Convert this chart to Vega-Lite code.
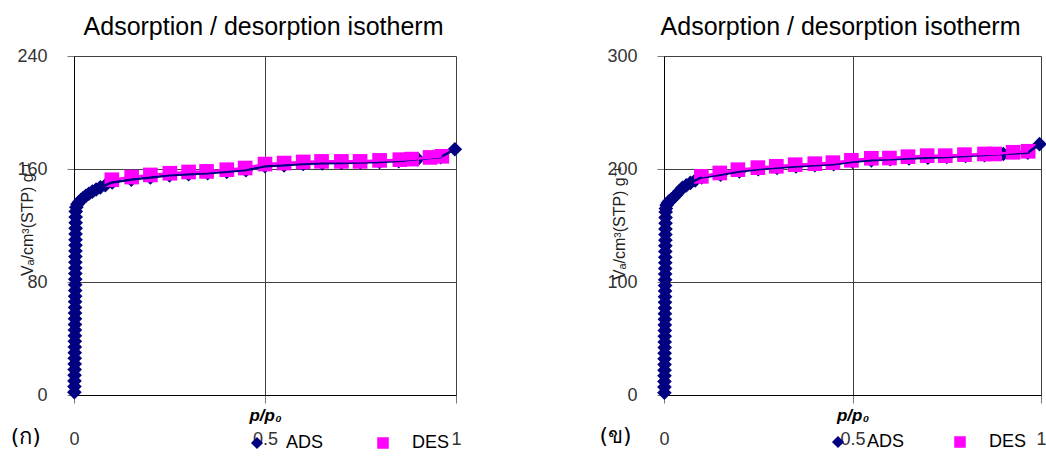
{
  "$schema": "https://vega.github.io/schema/vega-lite/v6.json",
  "padding": {"left": 10, "top": 15, "right": 0, "bottom": 0},
  "background": "white",
  "config": {
    "font": "Liberation Sans",
    "view": {"stroke": null},
    "axis": {"domainColor": "#000000", "domainWidth": 1, "gridColor": "#404040", "gridWidth": 1, "gridOpacity": 1, "tickColor": "#777777", "labelColor": "#333333", "labelFontSize": 18, "labelFont": "Liberation Sans", "titleFont": "Liberation Sans", "titleColor": "#222222"},
    "title": {"font": "Liberation Sans", "fontSize": 25, "fontWeight": "normal", "color": "#000000"}
  },
  "datasets": {
    "left": [
      {"p": 0.0010, "v": 2, "s": "ADS"}, {"p": 0.0012, "v": 6, "s": "ADS"}, {"p": 0.0013, "v": 10, "s": "ADS"}, {"p": 0.0015, "v": 14, "s": "ADS"},
      {"p": 0.0016, "v": 18, "s": "ADS"}, {"p": 0.0018, "v": 22, "s": "ADS"}, {"p": 0.0019, "v": 26, "s": "ADS"}, {"p": 0.0020, "v": 30, "s": "ADS"},
      {"p": 0.0021, "v": 34, "s": "ADS"}, {"p": 0.0022, "v": 38, "s": "ADS"}, {"p": 0.0023, "v": 42, "s": "ADS"}, {"p": 0.0024, "v": 46, "s": "ADS"},
      {"p": 0.0025, "v": 50, "s": "ADS"}, {"p": 0.0026, "v": 54, "s": "ADS"}, {"p": 0.0027, "v": 58, "s": "ADS"}, {"p": 0.0028, "v": 62, "s": "ADS"},
      {"p": 0.0029, "v": 66, "s": "ADS"}, {"p": 0.0030, "v": 70, "s": "ADS"}, {"p": 0.0031, "v": 74, "s": "ADS"}, {"p": 0.0032, "v": 78, "s": "ADS"},
      {"p": 0.0033, "v": 82, "s": "ADS"}, {"p": 0.0034, "v": 86, "s": "ADS"}, {"p": 0.0035, "v": 90, "s": "ADS"}, {"p": 0.0036, "v": 94, "s": "ADS"},
      {"p": 0.0037, "v": 98, "s": "ADS"}, {"p": 0.0038, "v": 102, "s": "ADS"}, {"p": 0.0039, "v": 106, "s": "ADS"}, {"p": 0.0040, "v": 110, "s": "ADS"},
      {"p": 0.0041, "v": 114, "s": "ADS"}, {"p": 0.0042, "v": 118, "s": "ADS"}, {"p": 0.0043, "v": 122, "s": "ADS"}, {"p": 0.0044, "v": 126, "s": "ADS"},
      {"p": 0.0046, "v": 130, "s": "ADS"}, {"p": 0.006, "v": 133, "s": "ADS"}, {"p": 0.009, "v": 135, "s": "ADS"}, {"p": 0.013, "v": 136.5, "s": "ADS"},
      {"p": 0.018, "v": 138, "s": "ADS"}, {"p": 0.024, "v": 139.5, "s": "ADS"}, {"p": 0.031, "v": 141, "s": "ADS"}, {"p": 0.039, "v": 142.5, "s": "ADS"},
      {"p": 0.048, "v": 144, "s": "ADS"}, {"p": 0.058, "v": 145.5, "s": "ADS"}, {"p": 0.069, "v": 147, "s": "ADS"}, {"p": 0.082, "v": 148.5, "s": "ADS"},
      {"p": 0.1, "v": 150.5, "s": "ADS"}, {"p": 0.15, "v": 152.5, "s": "ADS"}, {"p": 0.2, "v": 154, "s": "ADS"}, {"p": 0.25, "v": 155.5, "s": "ADS"},
      {"p": 0.3, "v": 156.3, "s": "ADS"}, {"p": 0.35, "v": 157, "s": "ADS"}, {"p": 0.4, "v": 158, "s": "ADS"}, {"p": 0.45, "v": 159.2, "s": "ADS"},
      {"p": 0.5, "v": 162, "s": "ADS"}, {"p": 0.55, "v": 162.6, "s": "ADS"}, {"p": 0.6, "v": 163.6, "s": "ADS"}, {"p": 0.65, "v": 164, "s": "ADS"},
      {"p": 0.7, "v": 164.3, "s": "ADS"}, {"p": 0.75, "v": 164.6, "s": "ADS"}, {"p": 0.8, "v": 165, "s": "ADS"}, {"p": 0.85, "v": 165.6, "s": "ADS"},
      {"p": 0.9, "v": 167, "s": "ADS"}, {"p": 0.96, "v": 168.4, "s": "ADS"}, {"p": 0.997, "v": 174, "s": "ADS"},
      {"p": 0.099, "v": 152.4, "s": "DES"}, {"p": 0.151, "v": 154.3, "s": "DES"}, {"p": 0.2, "v": 155.8, "s": "DES"}, {"p": 0.251, "v": 157, "s": "DES"},
      {"p": 0.3, "v": 157.9, "s": "DES"}, {"p": 0.347, "v": 158.3, "s": "DES"}, {"p": 0.4, "v": 159.5, "s": "DES"}, {"p": 0.448, "v": 160.7, "s": "DES"},
      {"p": 0.5, "v": 163.5, "s": "DES"}, {"p": 0.55, "v": 164.2, "s": "DES"}, {"p": 0.6, "v": 165, "s": "DES"}, {"p": 0.648, "v": 165.4, "s": "DES"},
      {"p": 0.7, "v": 165.4, "s": "DES"}, {"p": 0.749, "v": 165.4, "s": "DES"}, {"p": 0.8, "v": 166.1, "s": "DES"}, {"p": 0.853, "v": 166.6, "s": "DES"},
      {"p": 0.884, "v": 167, "s": "DES"}, {"p": 0.932, "v": 168.2, "s": "DES"}, {"p": 0.963, "v": 169, "s": "DES"}
    ],
    "right": [
      {"p": 0.0010, "v": 2, "s": "ADS"}, {"p": 0.0011, "v": 7, "s": "ADS"}, {"p": 0.0012, "v": 12, "s": "ADS"}, {"p": 0.0013, "v": 17, "s": "ADS"},
      {"p": 0.0014, "v": 22, "s": "ADS"}, {"p": 0.0015, "v": 27, "s": "ADS"}, {"p": 0.0016, "v": 32, "s": "ADS"}, {"p": 0.0017, "v": 37, "s": "ADS"},
      {"p": 0.0018, "v": 42, "s": "ADS"}, {"p": 0.0019, "v": 47, "s": "ADS"}, {"p": 0.0020, "v": 52, "s": "ADS"}, {"p": 0.0021, "v": 57, "s": "ADS"},
      {"p": 0.0022, "v": 62, "s": "ADS"}, {"p": 0.0023, "v": 67, "s": "ADS"}, {"p": 0.0024, "v": 72, "s": "ADS"}, {"p": 0.0025, "v": 77, "s": "ADS"},
      {"p": 0.0026, "v": 82, "s": "ADS"}, {"p": 0.0027, "v": 87, "s": "ADS"}, {"p": 0.0028, "v": 92, "s": "ADS"}, {"p": 0.0029, "v": 97, "s": "ADS"},
      {"p": 0.0030, "v": 102, "s": "ADS"}, {"p": 0.0031, "v": 107, "s": "ADS"}, {"p": 0.0032, "v": 112, "s": "ADS"}, {"p": 0.0033, "v": 117, "s": "ADS"},
      {"p": 0.0034, "v": 122, "s": "ADS"}, {"p": 0.0035, "v": 127, "s": "ADS"}, {"p": 0.0036, "v": 132, "s": "ADS"}, {"p": 0.0037, "v": 137, "s": "ADS"},
      {"p": 0.0038, "v": 142, "s": "ADS"}, {"p": 0.0039, "v": 147, "s": "ADS"}, {"p": 0.0040, "v": 152, "s": "ADS"}, {"p": 0.0042, "v": 157, "s": "ADS"},
      {"p": 0.0045, "v": 162, "s": "ADS"}, {"p": 0.005, "v": 165, "s": "ADS"}, {"p": 0.007, "v": 168, "s": "ADS"}, {"p": 0.01, "v": 170, "s": "ADS"},
      {"p": 0.014, "v": 171.5, "s": "ADS"}, {"p": 0.019, "v": 173, "s": "ADS"}, {"p": 0.025, "v": 174.5, "s": "ADS"}, {"p": 0.032, "v": 177, "s": "ADS"},
      {"p": 0.04, "v": 180, "s": "ADS"}, {"p": 0.049, "v": 183.3, "s": "ADS"}, {"p": 0.059, "v": 185.5, "s": "ADS"}, {"p": 0.07, "v": 187.7, "s": "ADS"},
      {"p": 0.083, "v": 190, "s": "ADS"}, {"p": 0.1, "v": 192.5, "s": "ADS"}, {"p": 0.15, "v": 195, "s": "ADS"}, {"p": 0.2, "v": 197.8, "s": "ADS"},
      {"p": 0.25, "v": 199.8, "s": "ADS"}, {"p": 0.3, "v": 201, "s": "ADS"}, {"p": 0.35, "v": 202.3, "s": "ADS"}, {"p": 0.4, "v": 203.3, "s": "ADS"},
      {"p": 0.45, "v": 204.3, "s": "ADS"}, {"p": 0.5, "v": 206.5, "s": "ADS"}, {"p": 0.55, "v": 207.7, "s": "ADS"}, {"p": 0.6, "v": 208.6, "s": "ADS"},
      {"p": 0.65, "v": 209.3, "s": "ADS"}, {"p": 0.7, "v": 210, "s": "ADS"}, {"p": 0.75, "v": 210.6, "s": "ADS"}, {"p": 0.8, "v": 211.5, "s": "ADS"},
      {"p": 0.85, "v": 212.3, "s": "ADS"}, {"p": 0.9, "v": 213.3, "s": "ADS"}, {"p": 0.965, "v": 214.4, "s": "ADS"}, {"p": 0.996, "v": 222, "s": "ADS"},
      {"p": 0.099, "v": 193.5, "s": "DES"}, {"p": 0.148, "v": 196.5, "s": "DES"}, {"p": 0.196, "v": 199.4, "s": "DES"}, {"p": 0.249, "v": 201.2, "s": "DES"},
      {"p": 0.298, "v": 202.4, "s": "DES"}, {"p": 0.348, "v": 203.8, "s": "DES"}, {"p": 0.4, "v": 204.7, "s": "DES"}, {"p": 0.448, "v": 205.6, "s": "DES"},
      {"p": 0.497, "v": 207.7, "s": "DES"}, {"p": 0.55, "v": 209.5, "s": "DES"}, {"p": 0.598, "v": 209.7, "s": "DES"}, {"p": 0.647, "v": 210.9, "s": "DES"},
      {"p": 0.698, "v": 211.8, "s": "DES"}, {"p": 0.746, "v": 211.8, "s": "DES"}, {"p": 0.797, "v": 212.7, "s": "DES"}, {"p": 0.85, "v": 213.3, "s": "DES"},
      {"p": 0.877, "v": 213.3, "s": "DES"}, {"p": 0.926, "v": 214.8, "s": "DES"}, {"p": 0.966, "v": 215.7, "s": "DES"}
    ]
  },
  "spacing": 136,
  "resolve": {
    "scale": {"x": "independent", "y": "independent", "fill": "independent", "stroke": "independent", "shape": "independent"},
    "legend": {"fill": "independent", "stroke": "independent", "shape": "independent"},
    "axis": {"x": "independent", "y": "independent"}
  },
  "hconcat": [
    {
      "width": 382,
      "height": 339,
      "title": {"text": "Adsorption / desorption isotherm", "offset": 7, "anchor": "middle", "dx": -1.5},
      "data": {"name": "left"},
      "encoding": {
        "x": {"field": "p", "type": "quantitative", "scale": {"domain": [0, 1], "nice": false, "zero": false},
          "axis": {"values": [0, 0.5, 1], "format": "~g", "labelFlush": false, "grid": true, "tickSize": 8, "labelPadding": 27,
            "title": "p/p₀", "titleFontStyle": "italic", "titleFontWeight": "bold", "titleFontSize": 17, "titleColor": "#000000", "titleY": 12, "titleBaseline": "top"}},
        "y": {"field": "v", "type": "quantitative", "scale": {"domain": [0, 240], "nice": false},
          "axis": {"values": [0, 80, 160, 240], "grid": true, "tickSize": 7, "labelPadding": 20,
            "title": "Vₐ/cm³(STP) g⁻¹", "titleX": -47, "titleY": 163, "titleAngle": -90, "titleAlign": "center", "titleBaseline": "middle", "titleFontSize": 16, "titleFontWeight": "normal"}}
      },
      "layer": [
        {"mark": {"type": "point", "filled": true, "size": 215, "opacity": 1},
          "encoding": {
            "fill": {"field": "s", "type": "nominal", "title": null, "scale": {"domain": ["ADS", "DES"], "range": ["#000080", "#FF00FF"]},
              "legend": {"title": null, "orient": "none", "legendX": 174, "legendY": 378, "direction": "horizontal", "labelFontSize": 18, "labelOffset": 20, "columnPadding": 50}},
            "shape": {"field": "s", "type": "nominal", "title": null, "scale": {"domain": ["ADS", "DES"], "range": ["diamond", "square"]},
              "legend": {"title": null, "orient": "none", "legendX": 174, "legendY": 378, "direction": "horizontal", "labelFontSize": 18, "labelOffset": 20, "columnPadding": 50}}}},
        {"mark": {"type": "line", "strokeWidth": 2.5},
          "encoding": {"stroke": {"field": "s", "type": "nominal", "scale": {"domain": ["ADS", "DES"], "range": ["#000080", "#FF00FF"]}, "legend": null}}},
        {"transform": [{"filter": "datum.s === 'DES' && datum.p < 0.1"}], "mark": {"type": "text", "fontSize": 22, "font": "DejaVu Sans", "align": "center", "baseline": "middle", "color": "#000000"},
          "encoding": {"x": {"datum": -0.126, "type": "quantitative"}, "y": {"datum": -29.7, "type": "quantitative"}, "text": {"value": "(ก)"}}}
      ]
    },
    {
      "width": 377,
      "height": 339,
      "title": {"text": "Adsorption / desorption isotherm", "offset": 7, "anchor": "middle", "dx": -12},
      "data": {"name": "right"},
      "encoding": {
        "x": {"field": "p", "type": "quantitative", "scale": {"domain": [0, 1], "nice": false, "zero": false},
          "axis": {"values": [0, 0.5, 1], "format": "~g", "labelFlush": false, "grid": true, "tickSize": 8, "labelPadding": 27,
            "title": "p/p₀", "titleFontStyle": "italic", "titleFontWeight": "bold", "titleFontSize": 17, "titleColor": "#000000", "titleY": 12, "titleBaseline": "top"}},
        "y": {"field": "v", "type": "quantitative", "scale": {"domain": [0, 300], "nice": false},
          "axis": {"values": [0, 100, 200, 300], "grid": true, "tickSize": 7, "labelPadding": 20,
            "title": "Vₐ/cm³(STP) g⁻¹", "titleX": -44.5, "titleY": 167, "titleAngle": -90, "titleAlign": "center", "titleBaseline": "middle", "titleFontSize": 16, "titleFontWeight": "normal"}}
      },
      "layer": [
        {"mark": {"type": "point", "filled": true, "size": 215, "opacity": 1},
          "encoding": {
            "fill": {"field": "s", "type": "nominal", "title": null, "scale": {"domain": ["ADS", "DES"], "range": ["#000080", "#FF00FF"]},
              "legend": {"title": null, "orient": "none", "legendX": 165, "legendY": 377, "direction": "horizontal", "labelFontSize": 18, "labelOffset": 20, "columnPadding": 46}},
            "shape": {"field": "s", "type": "nominal", "title": null, "scale": {"domain": ["ADS", "DES"], "range": ["diamond", "square"]},
              "legend": {"title": null, "orient": "none", "legendX": 165, "legendY": 377, "direction": "horizontal", "labelFontSize": 18, "labelOffset": 20, "columnPadding": 46}}}},
        {"mark": {"type": "line", "strokeWidth": 2.5},
          "encoding": {"stroke": {"field": "s", "type": "nominal", "scale": {"domain": ["ADS", "DES"], "range": ["#000080", "#FF00FF"]}, "legend": null}}},
        {"transform": [{"filter": "datum.s === 'DES' && datum.p < 0.1"}], "mark": {"type": "text", "fontSize": 22, "font": "DejaVu Sans", "align": "center", "baseline": "middle", "color": "#000000"},
          "encoding": {"x": {"datum": -0.1286, "type": "quantitative"}, "y": {"datum": -36.3, "type": "quantitative"}, "text": {"value": "(ข)"}}}
      ]
    }
  ]
}
